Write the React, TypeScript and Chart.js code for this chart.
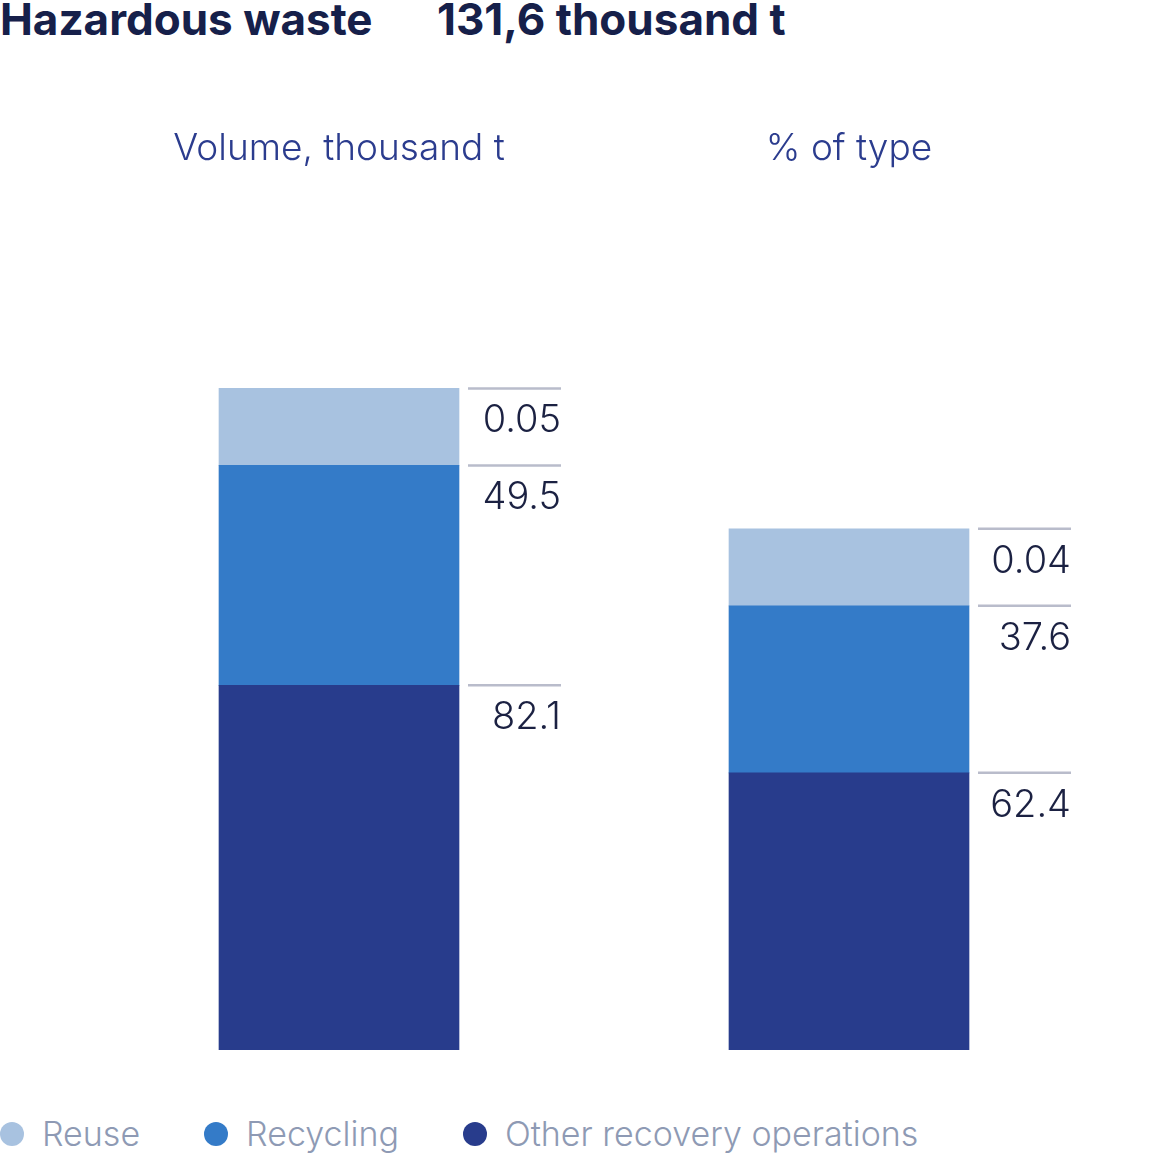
import { useEffect, useRef } from "react";
import { Chart } from "chart.js/auto";
import type { ChartOptions, Plugin } from "chart.js";

const categories = ["Volume, thousand t", "% of type"];
const seriesNames = ["Other recovery operations", "Recycling", "Reuse"];
const otherValues = [82.1, 62.4];
const recyclingValues = [49.5, 37.6];
const reuseValues = [0.05, 0.04];
const seriesColors = ["#283c8c", "#347bc8", "#a8c2e0"];

const FONT = "Inter, 'Noto Sans', sans-serif";

// grey rule + value text to the right of each segment top
const segmentLabels: Plugin<"bar"> = {
  id: "segmentLabels",
  afterDatasetsDraw(chart) {
    const { ctx } = chart;
    ctx.save();
    chart.data.datasets.forEach((ds, di) => {
      const meta = chart.getDatasetMeta(di);
      meta.data.forEach((el, i) => {
        const bar = el as unknown as { x: number; y: number; width: number };
        const right = bar.x + bar.width / 2;
        ctx.strokeStyle = "#b9bccb";
        ctx.lineWidth = 2.5;
        ctx.beginPath();
        ctx.moveTo(right + 9, bar.y);
        ctx.lineTo(right + 102, bar.y);
        ctx.stroke();
        ctx.fillStyle = "#1b2142";
        ctx.font = `300 38px ${FONT}`;
        ctx.textAlign = "right";
        ctx.textBaseline = "alphabetic";
        ctx.fillText(String(ds.data[i]), right + 102, bar.y + 44);
      });
    });
    ctx.restore();
  },
};

function StackedBars() {
  const canvasRef = useRef<HTMLCanvasElement | null>(null);

  useEffect(() => {
    if (!canvasRef.current) return;
    const options: ChartOptions<"bar"> = {
      responsive: true,
      maintainAspectRatio: false,
      animation: false,
      layout: { padding: { top: 119, left: 84, right: 45, bottom: 30 } },
      plugins: {
        legend: { display: false },
        tooltip: { enabled: false },
      },
      scales: {
        x: {
          position: "top",
          stacked: true,
          grid: { display: false, drawTicks: false },
          border: { display: false },
          ticks: {
            padding: 8,
            color: "#2b3c8e",
            font: { family: FONT, size: 37, weight: 300 },
          },
        },
        y: {
          stacked: true,
          display: false,
          min: 0,
          max: 196,
        },
      },
    };

    const values = [otherValues, recyclingValues, reuseValues];
    const chart = new Chart(canvasRef.current, {
      type: "bar",
      data: {
        labels: categories,
        datasets: seriesNames.map((name, i) => ({
          label: name,
          data: values[i],
          backgroundColor: seriesColors[i],
          barThickness: 240,
          minBarLength: i === 2 ? 77 : 0,
        })),
      },
      options,
      plugins: [segmentLabels],
    });

    return () => {
      chart.destroy();
    };
  }, []);

  return (
    <div style={{ position: "absolute", left: 0, top: 0, width: 1149, height: 1080 }}>
      <canvas ref={canvasRef} />
    </div>
  );
}

export default function App() {
  const legendOrder = [2, 1, 0];
  return (
    <div
      style={{
        position: "absolute",
        left: 0,
        top: 0,
        width: 1149,
        height: 1157,
        overflow: "hidden",
        background: "#fff",
        fontFamily: FONT,
      }}
    >
      <div
        style={{
          position: "absolute",
          left: 0,
          top: -3,
          fontSize: 44,
          lineHeight: 1,
          fontWeight: 700,
          color: "#16204a",
          whiteSpace: "nowrap",
        }}
      >
        <span>Hazardous waste</span>
        <span style={{ position: "absolute", left: 437 }}>131,6 thousand t</span>
      </div>
      <StackedBars />
      <div
        style={{
          position: "absolute",
          left: 0,
          top: 1113,
          display: "flex",
          alignItems: "center",
          whiteSpace: "nowrap",
        }}
      >
        {legendOrder.map((i) => (
          <div key={i} style={{ display: "flex", alignItems: "center", marginRight: 64 }}>
            <span
              style={{
                width: 24,
                height: 24,
                borderRadius: "50%",
                background: seriesColors[i],
                marginRight: 18,
              }}
            />
            <span style={{ fontSize: 34, fontWeight: 300, color: "#8e9ab4", lineHeight: "42px" }}>
              {seriesNames[i]}
            </span>
          </div>
        ))}
      </div>
    </div>
  );
}
